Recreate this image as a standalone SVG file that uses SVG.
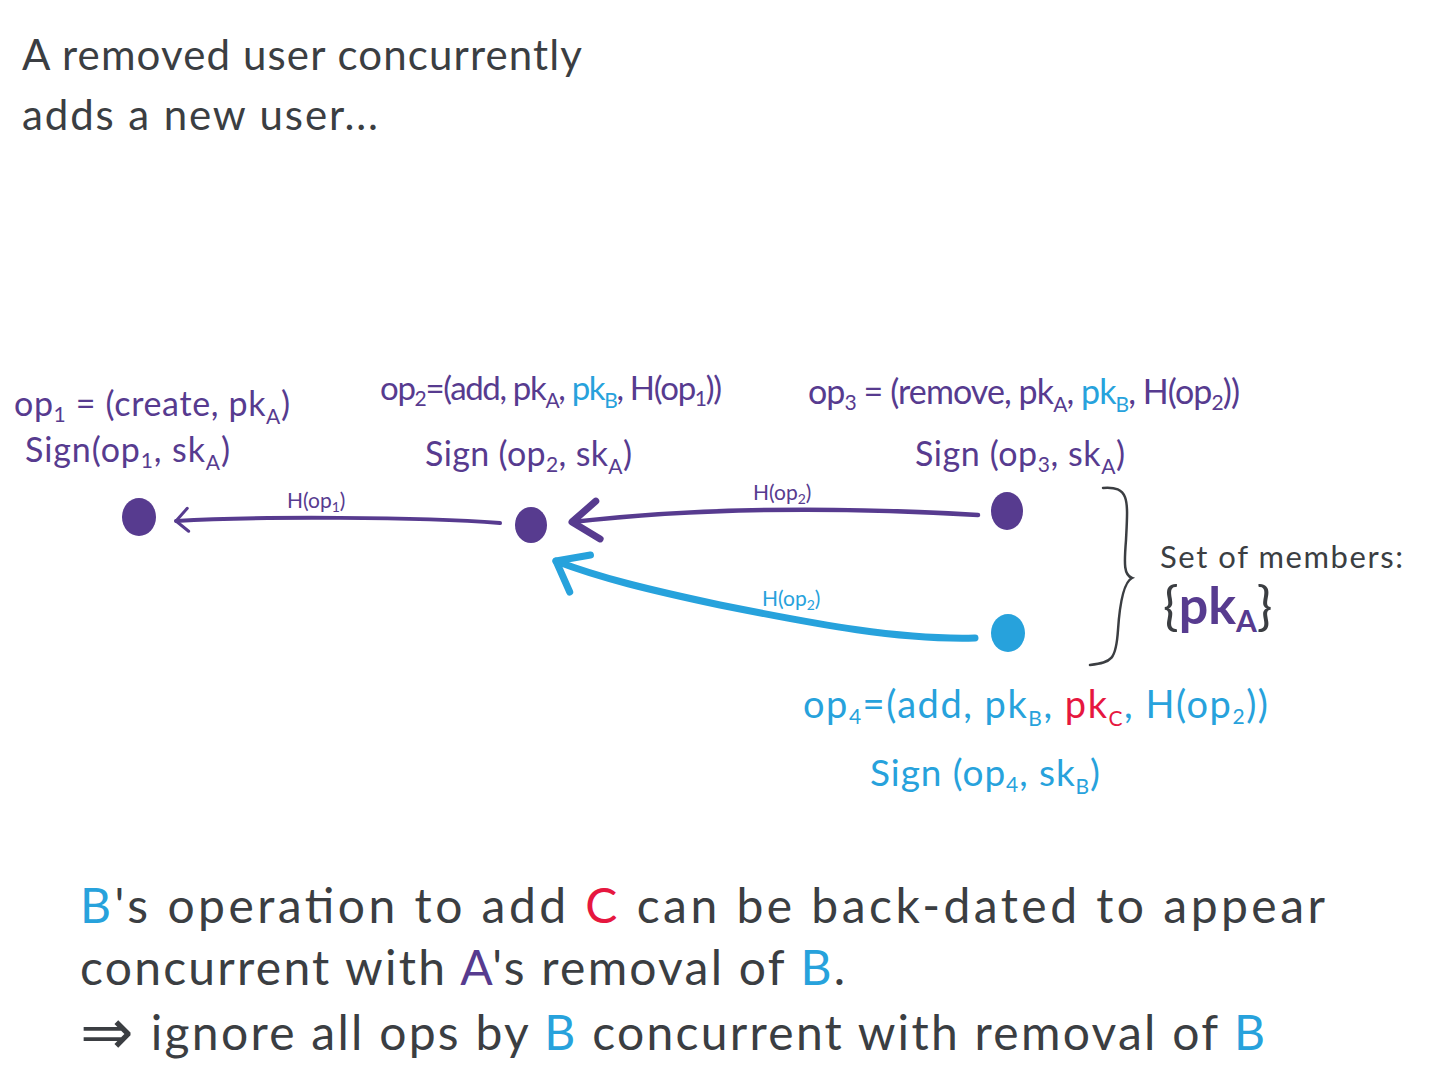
<svg xmlns="http://www.w3.org/2000/svg" width="1440" height="1080" viewBox="0 0 1440 1080">
<defs>
<style>
text{font-family:"Lato","Open Sans","Liberation Sans",sans-serif;}
.ink{fill:#3b3e42;}
.pu{fill:#573b8f;}
.bl{fill:#27a2dc;}
.rd{fill:#e6173f;}
.lab{font-size:34px;}
.big{font-size:48px;}
.edge{fill:none;stroke-linecap:round;stroke-linejoin:round;}
.epu{stroke:#573b8f;}
.ebl{stroke:#27a2dc;}
.sub{font-size:21px;}
.hl{font-size:21px;}
.hsub{font-size:14px;}
</style>
<marker id="chevS" markerUnits="userSpaceOnUse" markerWidth="40" markerHeight="40" refX="0" refY="0" orient="auto" overflow="visible">
<path d="M -12,-11 L 0,0 L -12,12" fill="none" stroke="#573b8f" stroke-width="3" stroke-linecap="round" stroke-linejoin="round"/>
</marker>
<marker id="chevP" markerUnits="userSpaceOnUse" markerWidth="60" markerHeight="60" refX="0" refY="0" orient="auto" overflow="visible">
<path d="M -26,-20 L 0,0 L -26,18" fill="none" stroke="#573b8f" stroke-width="7" stroke-linecap="round" stroke-linejoin="round"/>
</marker>
<marker id="chevB" markerUnits="userSpaceOnUse" markerWidth="60" markerHeight="60" refX="0" refY="0" orient="auto" overflow="visible">
<path d="M -24,-24 L 0,0 L -30,18" fill="none" stroke="#27a2dc" stroke-width="7" stroke-linecap="round" stroke-linejoin="round"/>
</marker>
</defs>
<rect width="1440" height="1080" fill="#ffffff"/>

<g id="title">
<text class="ink" x="22" y="70" font-size="42" textLength="560" lengthAdjust="spacing">A removed user concurrently</text>
<text class="ink" x="22" y="130" font-size="42" textLength="356" lengthAdjust="spacing">adds a new user...</text>
</g>

<g id="connectors">
<path class="edge epu" d="M 500,523 C 420,517 260,516 176,521" stroke-width="4" marker-end="url(#chevS)"/>
<text class="pu hl" x="287" y="508">H(op<tspan class="hsub" dy="4">1</tspan><tspan dy="-4">)</tspan></text>
<path class="edge epu" d="M 978,515 C 860,508 720,505 572,522" stroke-width="4.5" marker-end="url(#chevP)"/>
<text class="pu hl" x="753" y="500">H(op<tspan class="hsub" dy="4">2</tspan><tspan dy="-4">)</tspan></text>
<path class="edge ebl" d="M 975,638 C 900,640 820,625 720,605 C 650,590 600,578 556,561" stroke-width="7" marker-end="url(#chevB)"/>
<text class="bl hl" x="762" y="606">H(op<tspan class="hsub" dy="4">2</tspan><tspan dy="-4">)</tspan></text>
</g>

<g id="op1">
<ellipse class="pu" cx="139" cy="517" rx="17" ry="19"/>
<text class="pu lab" x="14" y="416" textLength="276" lengthAdjust="spacing">op<tspan class="sub" dy="6">1</tspan><tspan dy="-6"> = (create, pk</tspan><tspan class="sub" dy="8">A</tspan><tspan dy="-8">)</tspan></text>
<text class="pu lab" x="25" y="462" textLength="205" lengthAdjust="spacing">Sign(op<tspan class="sub" dy="6">1</tspan><tspan dy="-6">, sk</tspan><tspan class="sub" dy="8">A</tspan><tspan dy="-8">)</tspan></text>
</g>

<g id="op2">
<ellipse class="pu" cx="531" cy="525" rx="16" ry="18"/>
<text class="pu" font-size="33" x="380" y="400" textLength="342" lengthAdjust="spacing">op<tspan class="sub" dy="6">2</tspan><tspan dy="-6">=(add, pk</tspan><tspan class="sub" dy="8">A</tspan><tspan dy="-8">, </tspan><tspan class="bl">pk</tspan><tspan class="bl sub" dy="8">B</tspan><tspan dy="-8">, H(op</tspan><tspan class="sub" dy="6">1</tspan><tspan dy="-6">))</tspan></text>
<text class="pu lab" x="425" y="466" textLength="207" lengthAdjust="spacing">Sign (op<tspan class="sub" dy="6">2</tspan><tspan dy="-6">, sk</tspan><tspan class="sub" dy="8">A</tspan><tspan dy="-8">)</tspan></text>
</g>

<g id="op3">
<ellipse class="pu" cx="1007" cy="511" rx="16" ry="19"/>
<text class="pu lab" x="808" y="404" textLength="432" lengthAdjust="spacing">op<tspan class="sub" dy="6">3</tspan><tspan dy="-6"> = (remove, pk</tspan><tspan class="sub" dy="8">A</tspan><tspan dy="-8">, </tspan><tspan class="bl">pk</tspan><tspan class="bl sub" dy="8">B</tspan><tspan dy="-8">, H(op</tspan><tspan class="sub" dy="6">2</tspan><tspan dy="-6">))</tspan></text>
<text class="pu lab" x="915" y="466" textLength="210" lengthAdjust="spacing">Sign (op<tspan class="sub" dy="6">3</tspan><tspan dy="-6">, sk</tspan><tspan class="sub" dy="8">A</tspan><tspan dy="-8">)</tspan></text>
</g>

<g id="op4">
<ellipse class="bl" cx="1008" cy="633" rx="17" ry="19"/>
<text class="bl" font-size="38" x="803" y="718" textLength="465" lengthAdjust="spacing">op<tspan class="sub" dy="6">4</tspan><tspan dy="-6">=(add, pk</tspan><tspan class="sub" dy="8">B</tspan><tspan dy="-8">, </tspan><tspan class="rd">pk</tspan><tspan class="rd sub" dy="8">C</tspan><tspan dy="-8">, H(op</tspan><tspan class="sub" dy="6">2</tspan><tspan dy="-6">))</tspan></text>
<text class="bl" font-size="37" x="870" y="786" textLength="230" lengthAdjust="spacing">Sign (op<tspan class="sub" dy="6">4</tspan><tspan dy="-6">, sk</tspan><tspan class="sub" dy="8">B</tspan><tspan dy="-8">)</tspan></text>
</g>

<g id="members">
<path d="M 1103,488 C 1130,486 1128,500 1126,540 C 1124,565 1124,575 1132,578 C 1124,582 1120,600 1118,630 C 1116,660 1112,662 1090,665" fill="none" stroke="#3b3e42" stroke-width="2.5" stroke-linecap="round"/>
<text class="ink" x="1160" y="568" font-size="31" textLength="243" lengthAdjust="spacing">Set of members:</text>
<text class="ink" x="1163" y="624" font-size="52">{<tspan class="pu" font-weight="bold">pk</tspan><tspan class="pu" font-weight="bold" font-size="30" dy="8">A</tspan><tspan dy="-8">}</tspan></text>
</g>

<g id="conclusion">
<text class="ink big" x="80" y="923" textLength="1245" lengthAdjust="spacing"><tspan class="bl">B</tspan>'s operation to add <tspan class="rd">C</tspan> can be back-dated to appear</text>
<text class="ink big" x="80" y="985" textLength="765" lengthAdjust="spacing">concurrent with <tspan class="pu">A</tspan>'s removal of <tspan class="bl">B</tspan>.</text>
<text class="ink big" x="80" y="1050" textLength="1185" lengthAdjust="spacing"><tspan font-size="64" dy="4">⇒</tspan><tspan dy="-4"> ignore all ops by </tspan><tspan class="bl">B</tspan> concurrent with removal of <tspan class="bl">B</tspan></text>
</g>
</svg>
